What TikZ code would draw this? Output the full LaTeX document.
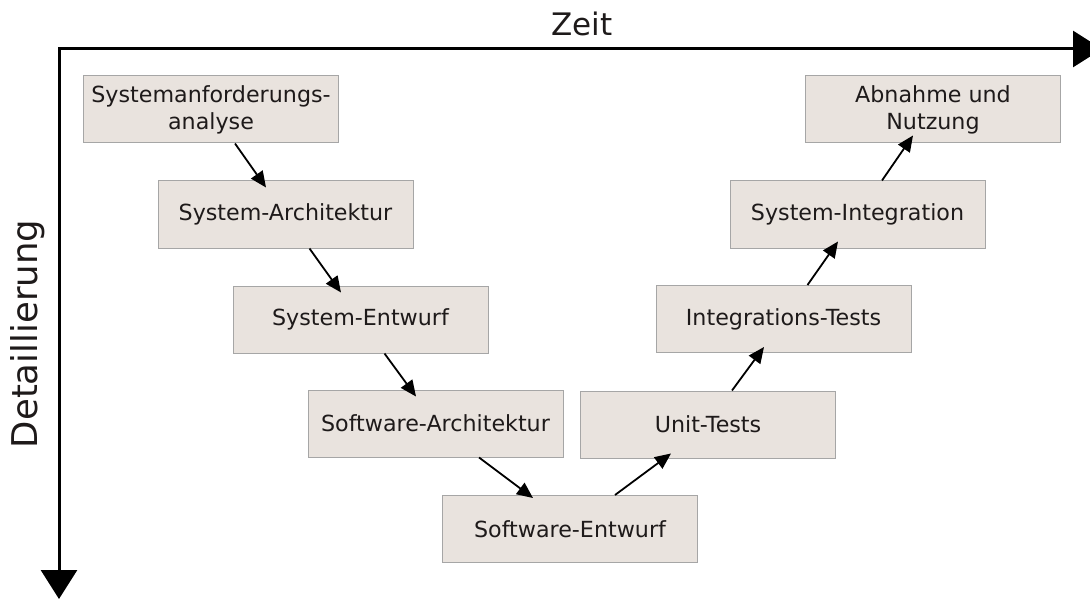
\documentclass[tikz,border=0pt]{standalone}
\usepackage{fontspec}
\setmainfont{DejaVu Sans}
\usetikzlibrary{arrows.meta,calc}
\definecolor{boxfill}{HTML}{E9E3DE}
\definecolor{boxline}{HTML}{A6A6A6}
\definecolor{txt}{HTML}{1E1A1A}
\begin{document}
\begin{tikzpicture}[x=1pt,y=-1pt,
  phase/.style={draw=boxline,fill=boxfill,line width=1pt,minimum width=255pt,minimum height=67pt,
    inner sep=0pt,align=center,text=txt,font=\fontsize{22.2}{27}\selectfont},
  conn/.style={line width=1.8pt,-{Triangle[length=16pt,width=14pt]}},
  axis/.style={line width=3pt,line join=miter,{Triangle[length=29pt,width=36pt]}-{Triangle[length=29pt,width=36pt]}},
  axlabel/.style={text=txt,inner sep=0pt}]
\useasboundingbox (0,0) rectangle (1090,599);
\begin{scope}
\clip (0,0) rectangle (1090,599);
\coordinate (o) at (59,49);
\coordinate (xend) at (1102,49);
\coordinate (yend) at (59,599);
\draw[axis] (yend) -- (o) -- (xend);
\end{scope}
\node[axlabel,font=\fontsize{31}{36}\selectfont,anchor=base] (zeit) at (582,36) {Zeit};
\node[axlabel,font=\fontsize{35.5}{40}\selectfont,rotate=90] (detail) at (28,334) {Detaillierung};

\node[phase] (n1) at (211,109.5) {Systemanforderungs-\\analyse};
\node[phase] (n2) at (285.5,214.5) {System-Architektur};
\node[phase] (n3) at (360.5,319.5) {System-Entwurf};
\node[phase] (n4) at (435.5,423.5) {Software-Architektur};
\node[phase] (n5) at (570,529) {Software-Entwurf};
\node[phase] (n6) at (708,424.5) {Unit-Tests};
\node[phase] (n7) at (783.5,319) {Integrations-Tests};
\node[phase] (n8) at (857.5,214.5) {System-Integration};
\node[phase] (n9) at (933,109.5) {Abnahme und\\Nutzung};

\draw[conn] ($(n1.south)+(24,0)$) -- ($(n2.north)+(-19.5,7)$);
\draw[conn] ($(n2.south)+(24,0)$) -- ($(n3.north)+(-19.5,7)$);
\draw[conn] ($(n3.south)+(24,0)$) -- ($(n4.north)+(-19.5,7)$);
\draw[conn] ($(n4.south)+(43.5,0)$) -- ($(n5.north)+(-37,3)$);
\draw[conn] ($(n5.north)+(45,0)$) -- ($(n6.south)+(-37,-5)$);
\draw[conn] ($(n6.north)+(24,0)$) -- ($(n7.south)+(-19.5,-6)$);
\draw[conn] ($(n7.north)+(24,0)$) -- ($(n8.south)+(-19.5,-7)$);
\draw[conn] ($(n8.north)+(24.5,0)$) -- ($(n9.south)+(-20,-8)$);
\end{tikzpicture}
\end{document}
